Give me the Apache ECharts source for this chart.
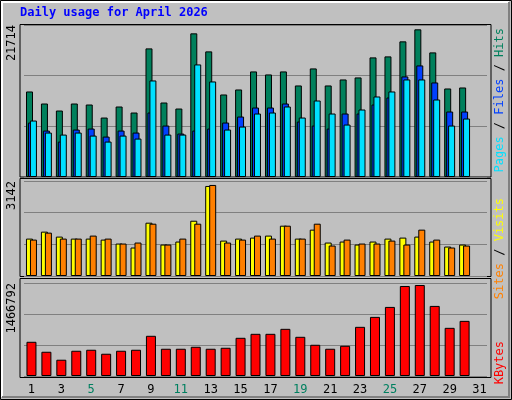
<!DOCTYPE html>
<html><head><meta charset="utf-8">
<script src="https://cdn.jsdelivr.net/npm/echarts@6/dist/echarts.min.js"></script>
<style>html,body{margin:0;padding:0;background:#fff}#c{width:512px;height:400px}</style>
</head><body><div id="c"></div>
<script>
const days = ['1','2','3','4','5','6','7','8','9','10','11','12','13','14','15','16','17','18','19','20','21','22','23','24','25','26','27','28','29','30','31'];
const weekend = ['4','5','11','12','18','19','25','26'];
const hits = [12217,10499,9497,10499,10356,8495,10070,9211,18374,10642,9783,20521,17944,11788,12503,15081,14651,15081,13076,15510,13076,13935,14222,17085,17228,19376,21094,17801,12647,12790,null];
const files = [7779,6633,5059,6777,6920,5774,6633,6347,9211,7349,6204,6633,6920,7779,8638,9926,9926,10499,7922,7349,6920,9067,9067,10356,11358,14364,15939,13505,9353,9353,null];
const pages = [8065,6347,6060,6347,5917,5059,5917,5488,13791,6060,6060,16082,13648,6777,7206,9067,9211,10070,8495,10928,9067,7492,9640,11501,12217,13935,13935,11071,7349,8351,null];
const visits = [1237,1467,1303,1237,1237,1204,1073,942,1763,1040,1139,1828,2978,1171,1237,1270,1336,1664,1237,1533,1106,1139,1040,1139,1237,1270,1303,1139,974,1040,null];
const sites = [1204,1434,1237,1237,1336,1237,1073,1106,1730,1040,1237,1730,3011,1106,1204,1336,1237,1664,1237,1730,1007,1204,1073,1073,1171,1040,1533,1204,942,1007,null];
const kbytes = [539566,382411,256687,398126,413842,350980,398126,413842,633859,429557,429557,460988,429557,445273,602428,665290,665290,743867,618143,492419,429557,476704,775298,932453,1089608,1419634,1435350,1105324,759582,869591,null];
const maxHits = 21714, maxVisits = 3142, maxKB = 1466792;

const C = {hits:'#00805c', files:'#0040ff', pages:'#00e0ff', visits:'#ffff00', sites:'#ff8000', kb:'#ff0000'};
const font = '"DejaVu Sans Mono", monospace';
const grids = [
  {left:24, right:25, top:25, height:152},
  {left:24, right:25, top:181, height:95},
  {left:24, right:25, top:283, height:93}
];
function xa(i, show){
  return {type:'category', data:days, gridIndex:i, axisLine:{show:false}, axisTick:{show:false},
    axisLabel:{show:show, margin:8, fontFamily:font, fontSize:12,
      color:(v)=> weekend.includes(v)?'#008060':'#000'}};
}
function ya(i, max){
  return {type:'value', gridIndex:i, min:0, max:max, interval:max/3, axisLabel:{show:false},
    axisLine:{show:false}, axisTick:{show:false}, splitLine:{lineStyle:{color:'#808080', width:1}}};
}
function bar(name, data, gi, color, w, gap, z){
  return {name, type:'bar', data, xAxisIndex:gi, yAxisIndex:gi, barWidth:w, barGap:gap, z:z,
    itemStyle:{color, borderColor:'#000', borderWidth:1}, silent:true, animation:false};
}
function panel(y,h){
  return {type:'rect', shape:{x:20,y:y,width:471,height:h}, style:{fill:'none', stroke:'#000', lineWidth:1}, z:-1};
}
function vtext(x,y,rich,text){
  return {type:'text', x:x, y:y, rotation:Math.PI/2, z:10,
    style:{text:text, rich:rich, font:'12px '+font, align:'right', verticalAlign:'middle', fill:'#000'}};
}
const chart = echarts.init(document.getElementById('c'));
chart.setOption({
  backgroundColor:'#c0c0c0',
  animation:false,
  grid:grids,
  xAxis:[xa(0,false), xa(1,false), xa(2,true)],
  yAxis:[ya(0,maxHits), ya(1,maxVisits), ya(2,maxKB)],
  series:[
    bar('Hits', hits, 0, C.hits, 7, '-72%', 2),
    bar('Files', files, 0, C.files, 7, '-72%', 3),
    bar('Pages', pages, 0, C.pages, 7, '-72%', 4),
    bar('Visits', visits, 1, C.visits, 7, '-43%', 2),
    bar('Sites', sites, 1, C.sites, 7, '-43%', 3),
    bar('KBytes', kbytes, 2, C.kb, 10, '0%', 2)
  ],
  graphic:[
    {type:'rect', shape:{x:0.5,y:0.5,width:511,height:399}, style:{fill:'none', stroke:'#000', lineWidth:1}},
    {type:'polyline', shape:{points:[[2,397],[2,2],[509,2]]}, style:{fill:'none', stroke:'#fff', lineWidth:2}},
    {type:'polyline', shape:{points:[[509,2],[509,397],[2,397]]}, style:{fill:'none', stroke:'#808080', lineWidth:2}},
    panel(24.5,152.5), panel(178.5,98), panel(278.5,99),
    {type:'text', x:20, y:7, style:{text:'Daily usage for April 2026', font:'bold 12px '+font, fill:'#0000ff'}},
    vtext(12,25,null,'21714'),
    vtext(12,181,null,'3142'),
    vtext(12,283,null,'1466792'),
    {type:'text', x:500, y:28, rotation:Math.PI/2, z:10,
      style:{text:'{p|Pages}{s| / }{f|Files}{s| / }{h|Hits}', align:'right', verticalAlign:'middle', font:'12px '+font,
        rich:{p:{fill:C.pages, font:'12px '+font}, f:{fill:C.files, font:'12px '+font}, h:{fill:C.hits, font:'12px '+font}, s:{fill:'#000', font:'12px '+font}}}},
    {type:'text', x:500, y:198, rotation:Math.PI/2, z:10,
      style:{text:'{a|Sites}{s| / }{b|Visits}', align:'right', verticalAlign:'middle', font:'12px '+font,
        rich:{a:{fill:C.sites, font:'12px '+font}, b:{fill:C.visits, font:'12px '+font}, s:{fill:'#000', font:'12px '+font}}}},
    {type:'text', x:500, y:341, rotation:Math.PI/2, z:10,
      style:{text:'KBytes', fill:C.kb, align:'right', verticalAlign:'middle', font:'12px '+font}}
  ]
});
</script></body></html>
